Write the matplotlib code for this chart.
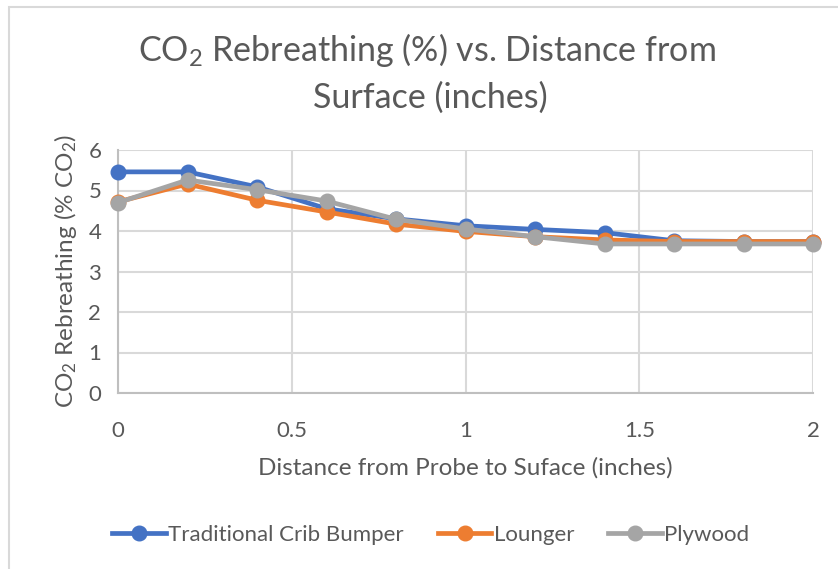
import matplotlib.pyplot as plt
from matplotlib.patches import Rectangle

plt.rcParams['font.family'] = ['Lato', 'DejaVu Sans']
plt.rcParams['mathtext.fontset'] = 'custom'
plt.rcParams['mathtext.rm'] = 'Lato'
plt.rcParams['mathtext.it'] = 'Lato:italic'

distance = [0, 0.2, 0.4, 0.6, 0.8, 1.0, 1.2, 1.4, 1.6, 1.8, 2.0]
bumper = [5.46, 5.46, 5.09, 4.55, 4.30, 4.13, 4.04, 3.96, 3.76, 3.74, 3.74]
lounger = [4.72, 5.16, 4.76, 4.47, 4.17, 3.99, 3.86, 3.78, 3.74, 3.74, 3.74]
plywood = [4.70, 5.26, 5.02, 4.74, 4.29, 4.05, 3.86, 3.68, 3.68, 3.68, 3.68]

x_ticks = [0, 0.5, 1, 1.5, 2]
x_labels = ['0', '0.5', '1', '1.5', '2']
y_ticks = [0, 1, 2, 3, 4, 5, 6]

text_col = '#595959'
series = [
    ('Traditional Crib Bumper', bumper, '#4472C4'),
    ('Lounger', lounger, '#ED7D31'),
    ('Plywood', plywood, '#A5A5A5'),
]

fig = plt.figure(figsize=(8.38, 5.69), dpi=100)
fig.patches.append(Rectangle((9 / 838, -0.01), 1.0, (569 - 7) / 569 + 0.01,
                             transform=fig.transFigure, fill=False,
                             edgecolor='#d9d9d9', linewidth=1.5))

ax = fig.add_axes([118 / 838, (569 - 393) / 569, (813 - 118) / 838, (393 - 150) / 569])

for name, vals, col in series:
    ax.plot(distance, vals, color=col, linewidth=3.4, marker='o',
            markersize=10.5, label=name, clip_on=False, zorder=3)

ax.set_xlim(0, 2)
ax.set_ylim(0, 6)
ax.set_xticks(x_ticks)
ax.set_xticklabels(x_labels)
ax.set_yticks(y_ticks)
ax.grid(True, color='#d9d9d9', linewidth=1.5)
ax.set_axisbelow(True)
for side in ['top', 'right']:
    ax.spines[side].set_visible(False)
for side in ['left', 'bottom']:
    ax.spines[side].set_color('#bfbfbf')
    ax.spines[side].set_linewidth(1.5)
ax.tick_params(length=0, labelsize=16, labelcolor=text_col)
ax.tick_params(axis='x', pad=20)
ax.tick_params(axis='y', pad=12)

ax.set_xlabel('Distance from Probe to Suface (inches)', fontsize=17.5,
              color=text_col, labelpad=12)
ax.set_ylabel('CO$_2$ Rebreathing (% CO$_2$)', fontsize=17.5, color=text_col,
              labelpad=7)

fig.text(0.51, 1 - 50 / 569, 'CO$_2$ Rebreathing (%) vs. Distance from',
         ha='center', va='center', fontsize=24.5, color=text_col)
fig.text(0.513, 1 - 98 / 569, 'Surface (inches)',
         ha='center', va='center', fontsize=24.5, color=text_col)

fig.legend(loc='center', bbox_to_anchor=(0.514, 1 - 535 / 569), ncol=3,
           frameon=False, fontsize=16, labelcolor=text_col,
           handlelength=2.4, handletextpad=0.1, columnspacing=1.55)

fig.savefig('out.png', dpi=100)
